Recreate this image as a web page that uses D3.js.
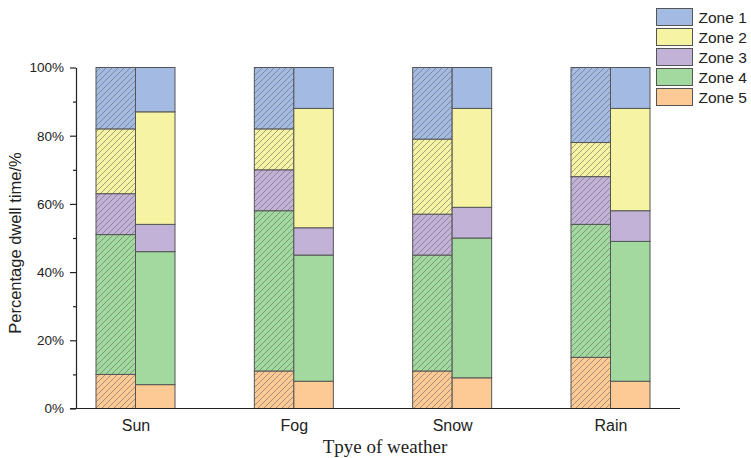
<!DOCTYPE html>
<html>
<head>
<meta charset="utf-8">
<script src="https://cdn.jsdelivr.net/npm/d3@7"></script>
<style>
  html, body { margin: 0; padding: 0; background: #fff; }
  svg { display: block; }
</style>
</head>
<body>
<svg id="chart" width="751" height="458"></svg>
<script>
// ---- Data ----
const categories = ["Sun", "Fog", "Snow", "Rain"];
const zones = ["Zone 1", "Zone 2", "Zone 3", "Zone 4", "Zone 5"];
const zoneColors = ["#a3bae2", "#f6f3a2", "#c3b2d8", "#a2d99e", "#fdc995"];

// Hatched (left) bars, percent per zone for each category
const zone1Hatched = [18, 18, 21, 22];
const zone2Hatched = [19, 12, 22, 10];
const zone3Hatched = [12, 12, 12, 14];
const zone4Hatched = [41, 47, 34, 39];
const zone5Hatched = [10, 11, 11, 15];

// Solid (right) bars
const zone1Solid = [13, 12, 12, 12];
const zone2Solid = [33, 35, 29, 30];
const zone3Solid = [8, 8, 9, 9];
const zone4Solid = [39, 37, 41, 41];
const zone5Solid = [7, 8, 9, 8];

const yTicks = [0, 20, 40, 60, 80, 100];
const yMinorTicks = [10, 30, 50, 70, 90];

// ---- Build tables ----
function table(arrs) {
  return categories.map((c, i) => {
    const row = { category: c };
    zones.forEach((z, k) => row[z] = arrs[k][i]);
    return row;
  });
}
const hatchedRows = table([zone1Hatched, zone2Hatched, zone3Hatched, zone4Hatched, zone5Hatched]);
const solidRows = table([zone1Solid, zone2Solid, zone3Solid, zone4Solid, zone5Solid]);

const stackKeys = zones.slice().reverse(); // Zone 5 at the bottom
const stack = d3.stack().keys(stackKeys);
const hatchedStack = stack(hatchedRows);
const solidStack = stack(solidRows);

const color = d3.scaleOrdinal().domain(zones).range(zoneColors);

// ---- Layout ----
const svg = d3.select("#chart");
const axisX = 76, axisRight = 680;
const y = d3.scaleLinear().domain([0, 100]).range([408.5, 67.5]);
const x = d3.scalePoint().domain(categories).range([135.5, 610.5]);
const barW = 39.5;

// ---- Hatch patterns ----
const defs = svg.append("defs");
zones.forEach((z, k) => {
  const p = defs.append("pattern")
    .attr("id", "hatch" + k)
    .attr("patternUnits", "userSpaceOnUse")
    .attr("width", 6).attr("height", 6);
  p.append("rect").attr("width", 6).attr("height", 6).attr("fill", color(z));
  p.append("path")
    .attr("d", "M-1,1 L1,-1 M0,6 L6,0 M5,7 L7,5")
    .attr("stroke", "#666")
    .attr("stroke-width", 0.6);
});

// ---- Bars ----
function drawBars(series, offset, hatched) {
  const g = svg.append("g");
  g.selectAll("g")
    .data(series)
    .join("g")
    .each(function(s) {
      const k = zones.indexOf(s.key);
      d3.select(this).selectAll("rect")
        .data(s)
        .join("rect")
        .attr("x", d => x(d.data.category) + offset)
        .attr("width", barW)
        .attr("y", d => y(d[1]))
        .attr("height", d => y(d[0]) - y(d[1]))
        .attr("fill", hatched ? `url(#hatch${k})` : color(s.key))
        .attr("stroke", "#555")
        .attr("stroke-width", 1);
    });
}
drawBars(hatchedStack, -barW, true);
drawBars(solidStack, 0, false);

// ---- Y axis ----
const yAxis = svg.append("g")
  .attr("transform", `translate(${axisX},0)`)
  .call(d3.axisLeft(y).tickValues(yTicks).tickFormat(d => d + "%").tickSize(6).tickSizeOuter(0).tickPadding(6));
yAxis.select(".domain").attr("stroke", "#222").attr("stroke-width", 1.2);
yAxis.selectAll(".tick line").attr("stroke", "#222").attr("stroke-width", 1.2);
yAxis.selectAll(".tick text").attr("font-family", "Liberation Sans, Arial, sans-serif").attr("font-size", 13.5).attr("fill", "#222");

const yMinor = svg.append("g")
  .attr("transform", `translate(${axisX},0)`)
  .call(d3.axisLeft(y).tickValues(yMinorTicks).tickFormat("").tickSize(3).tickSizeOuter(0));
yMinor.select(".domain").remove();
yMinor.selectAll(".tick line").attr("stroke", "#222").attr("stroke-width", 1.2);

// ---- X axis ----
svg.append("line")
  .attr("x1", axisX - 6).attr("x2", axisRight)
  .attr("y1", y(0)).attr("y2", y(0))
  .attr("stroke", "#222").attr("stroke-width", 1.2);

const xAxis = svg.append("g")
  .attr("transform", `translate(0,${y(0)})`)
  .call(d3.axisBottom(x).tickSize(0).tickPadding(11));
xAxis.select(".domain").remove();
xAxis.selectAll(".tick text").attr("font-family", "Liberation Sans, Arial, sans-serif").attr("font-size", 16).attr("fill", "#222");

// ---- Axis titles ----
svg.append("text")
  .attr("x", 385).attr("y", 453)
  .attr("text-anchor", "middle")
  .attr("font-family", "Liberation Serif, Times New Roman, serif")
  .attr("font-size", 19)
  .attr("fill", "#222")
  .text("Tpye of weather");

svg.append("text")
  .attr("transform", "translate(21,243) rotate(-90)")
  .attr("text-anchor", "middle")
  .attr("font-family", "Liberation Sans, Arial, sans-serif")
  .attr("font-size", 16.5)
  .attr("fill", "#222")
  .text("Percentage dwell time/%");

// ---- Legend ----
const legend = svg.append("g").attr("transform", "translate(656.5,8.5)");
const li = legend.selectAll("g").data(zones).join("g")
  .attr("transform", (d, i) => `translate(0,${i * 20})`);
li.append("rect")
  .attr("width", 36).attr("height", 17)
  .attr("fill", d => color(d))
  .attr("stroke", "#555").attr("stroke-width", 1);
li.append("text")
  .attr("x", 42).attr("y", 14.5)
  .attr("font-family", "Liberation Sans, Arial, sans-serif")
  .attr("font-size", 15.5)
  .attr("fill", "#222")
  .text(d => d);
</script>
</body>
</html>
